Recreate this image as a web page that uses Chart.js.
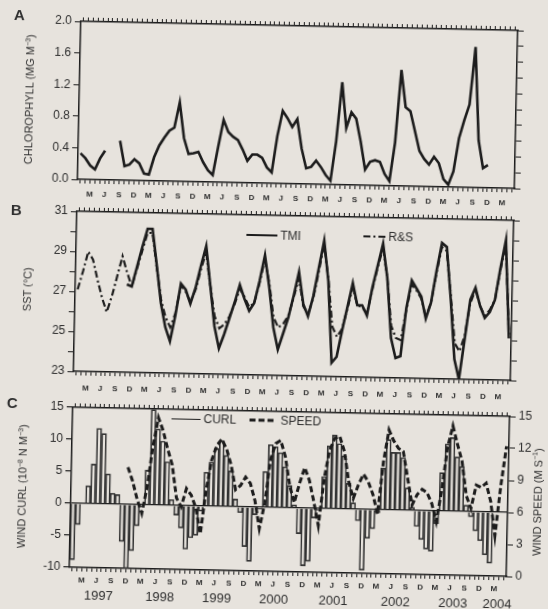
<!DOCTYPE html>
<html>
<head>
<meta charset="utf-8">
<title>Chlorophyll, SST and wind 1997-2004</title>
<script src="https://cdn.jsdelivr.net/npm/chart.js@4.4.1/dist/chart.umd.min.js"></script>
<style>
html, body { margin: 0; padding: 0; background: #e7e3dd; overflow: hidden; }
#page { position: relative; width: 548px; height: 609px;
        font-family: "Liberation Sans", Arial, sans-serif; color: #2e2e2e;
        transform: rotate(1.2deg); transform-origin: 60px 300px; }
canvas { position: absolute; left: 0; }
.lbl { position: absolute; white-space: nowrap; line-height: 1; }
.letter { font-weight: bold; font-size: 15px; }
.vtitle { font-size: 11px; transform: translate(-50%, -50%) rotate(-90deg); }
.vtitle sup { font-size: 7px; }
.leg { font-size: 12px; transform: translateY(-50%); }
</style>
</head>
<body>
<div id="page">
  <canvas id="chA" width="548" height="200" style="top:0px"></canvas>
  <canvas id="chB" width="548" height="200" style="top:195px"></canvas>
  <canvas id="chC" width="548" height="217" style="top:392px"></canvas>

  <div class="lbl letter" style="left:8px;top:8px">A</div>
  <div class="lbl letter" style="left:9px;top:203px">B</div>
  <div class="lbl letter" style="left:9px;top:396px">C</div>

  <div class="lbl vtitle" style="left:25px;top:100px">CHLOROPHYLL (MG M<sup>−3</sup>)</div>
  <div class="lbl vtitle" style="left:27px;top:290px">SST (°C)</div>
  <div class="lbl vtitle" style="left:26px;top:487px">WIND CURL (10<sup>−8</sup> N M<sup>−3</sup>)</div>
  <div class="lbl vtitle" style="left:541px;top:492px">WIND SPEED (M S<sup>−1</sup>)</div>

  <!-- legend panel B -->
  <div class="lbl" style="left:245px;top:230px;width:31px;border-top:2.5px solid #1c1c1c"></div>
  <div class="lbl leg" style="left:279px;top:231px">TMI</div>
  <svg class="lbl" style="left:362px;top:225px" width="24" height="10">
    <line x1="0" y1="5" x2="24" y2="5" stroke="#1c1c1c" stroke-width="2.2" stroke-dasharray="7 3 2 3"/>
  </svg>
  <div class="lbl leg" style="left:387px;top:230px">R&amp;S</div>

  <!-- legend panel C -->
  <div class="lbl" style="left:174px;top:416px;width:29px;border-top:1px solid #1c1c1c"></div>
  <div class="lbl leg" style="left:206px;top:416px">CURL</div>
  <svg class="lbl" style="left:252px;top:411px" width="27" height="10">
    <line x1="0" y1="5" x2="27" y2="5" stroke="#1c1c1c" stroke-width="3" stroke-dasharray="6 3"/>
  </svg>
  <div class="lbl leg" style="left:283px;top:416px">SPEED</div>
</div>

<script>
// months since January 1997 (Jan 1997 .. May 2004)
const monthIdx = [];
for (let i = 0; i < 89; i++) monthIdx.push(i);
const monthLetters = ['J', 'F', 'M', 'A', 'M', 'J', 'J', 'A', 'S', 'O', 'N', 'D'];
const shownMonths = [2, 5, 8, 11];
const yearLabels = ['1997', '1998', '1999', '2000', '2001', '2002', '2003', '2004'];
const yearLabelAt = [5.5, 18, 29.6, 41.2, 53.3, 66, 77.7, 86.7];

// A: chlorophyll, mg m-3 (gap in Jul-Aug 1997)
const chlorophyll = [
  0.33, 0.27, 0.18, 0.13, 0.27, 0.37, null, null, 0.50, 0.18, 0.20, 0.27,
  0.22, 0.09, 0.08, 0.30, 0.45, 0.55, 0.64, 0.68, 1.00, 0.55, 0.35, 0.36,
  0.38, 0.25, 0.15, 0.09, 0.45, 0.79, 0.64, 0.58, 0.54, 0.42, 0.28, 0.36,
  0.36, 0.32, 0.20, 0.14, 0.60, 0.92, 0.83, 0.72, 0.82, 0.45, 0.20, 0.22,
  0.30, 0.22, 0.12, 0.05, 0.55, 1.30, 0.72, 0.92, 0.84, 0.55, 0.20, 0.30,
  0.32, 0.30, 0.15, 0.06, 0.55, 1.47, 1.00, 0.95, 0.70, 0.45, 0.35, 0.28,
  0.38, 0.30, 0.10, 0.03, 0.20, 0.62, 0.85, 1.05, 1.78, 0.60, 0.25, 0.29
];

// B: sea surface temperature, deg C
const sstTMI = [
  null, null, null, null, null, null, null, null, null, null, 27.4, 27.3,
  28.3, 29.3, 30.2, 30.2, 28.4, 26.5, 25.3, 24.6, 25.9, 27.5, 27.2, 26.5,
  27.3, 28.4, 29.4, 27.4, 25.4, 24.3, 25.0, 25.8, 26.6, 27.5, 26.8, 26.2,
  26.6, 27.7, 29.0, 27.4, 25.4, 24.3, 25.1, 25.9, 27.0, 28.2, 26.6, 26.0,
  27.0, 28.4, 29.8, 27.8, 23.7, 24.0, 25.3, 26.5, 27.7, 26.6, 26.6, 26.1,
  27.5, 28.6, 29.7, 28.0, 25.0, 24.0, 24.1, 26.5, 27.9, 27.5, 27.1, 26.0,
  26.8, 28.4, 29.8, 29.6, 27.0, 24.0, 23.0, 25.0, 27.0, 27.6, 26.7, 26.1,
  26.4, 27.0, 28.6, 30.0, 25.1
];
const sstRS = [
  27.1, 28.0, 29.0, 28.6, 27.6, 26.7, 26.0, 26.8, 27.8, 28.8, 28.0, 27.3,
  28.2, 29.1, 30.0, 30.0, 28.3, 26.7, 25.8, 25.3, 26.0, 27.4, 27.1, 26.6,
  27.2, 28.2, 29.1, 27.4, 25.9, 25.3, 25.5, 25.9, 26.5, 27.3, 26.9, 26.4,
  26.6, 27.6, 28.8, 27.6, 25.9, 25.4, 25.6, 26.0, 26.9, 27.9, 26.5, 26.1,
  26.9, 28.2, 29.6, 27.9, 25.5, 25.0, 25.4, 26.4, 27.5, 26.6, 26.5, 26.2,
  27.4, 28.5, 29.5, 28.0, 25.6, 25.0, 24.9, 26.4, 27.7, 27.4, 27.0, 26.1,
  26.8, 28.3, 29.6, 29.4, 27.2, 24.8, 24.4, 25.2, 26.8, 27.5, 26.7, 26.2,
  26.5, 27.0, 28.5, 29.8, 25.3
];

// C: wind stress curl (1e-8 N m-3) and wind speed (m s-1)
const windCurl = [
  -8.8, -3.3, 0.0, 2.8, 6.2, 11.8, 11.0, 4.7, 1.7, 1.5, -5.8, -10.0,
  -7.2, -3.3, -0.3, 5.4, 14.9, 11.9, 10.0, 6.8, 0.9, -1.5, -3.5, -6.8,
  -5.0, -4.6, -0.8, 5.3, 6.9, 9.0, 10.3, 8.0, 5.6, 1.2, -0.9, -6.2,
  -8.5, -1.2, -0.3, 5.6, 9.8, 9.5, 8.6, 6.4, 3.5, 0.5, -4.0, -9.0,
  -8.3, -1.5, -0.3, 5.0, 9.8, 11.5, 10.2, 8.3, 4.0, 1.0, -1.8, -9.5,
  -4.5, -3.0, -0.5, 6.5, 11.0, 9.0, 9.0, 8.2, 3.5, 0.5, -2.5, -4.5,
  -6.0, -6.3, -2.0, 6.0, 10.5, 11.5, 8.5, 7.0, 1.0, -0.8, -3.0, -4.5,
  -6.7, -8.0
];
const windSpeed = [
  null, null, null, null, null, null, null, null, null, null, null, 9.5,
  8.2, 6.5, 5.2, 7.7, 11.5, 14.2, 13.0, 11.3, 9.8, 6.7, 5.9, 7.6,
  7.0, 5.8, 3.4, 7.5, 10.3, 11.7, 12.3, 11.4, 9.9, 7.6, 8.0, 8.8,
  8.2, 6.6, 4.0, 6.4, 10.5, 12.0, 12.3, 10.8, 8.1, 6.5, 8.3, 9.8,
  8.6, 6.6, 4.4, 8.8, 11.5, 12.6, 12.8, 11.4, 8.6, 7.0, 8.3, 9.3,
  8.6, 7.4, 5.6, 10.5, 13.5, 12.5, 11.8, 11.5, 9.0, 6.5, 7.5, 8.0,
  7.7, 6.7, 5.0, 8.0, 12.0, 14.0, 12.3, 10.7, 7.5, 6.3, 8.5, 8.3,
  8.7, 7.0, 3.8, 8.5, 12.2
];

const INK = '#1c1c1c';
Chart.defaults.font.family = '"Liberation Sans", Arial, sans-serif';
Chart.defaults.color = '#2e2e2e';

function isMult(v, step) {
  return Math.abs(v / step - Math.round(v / step)) < 1e-6;
}

function monthAxis(position, height, withLabels, pad, weight) {
  return {
    type: 'linear', position: position, min: -0.5, max: 88.5, offset: false, weight: weight || 0,
    afterBuildTicks: s => { s.ticks = monthIdx.map(v => ({ value: v })); },
    afterFit: s => { s.height = height; },
    grid: { drawOnChartArea: false, offset: false, tickLength: 4, color: INK, lineWidth: 1 },
    border: { color: INK, width: 1.5 },
    ticks: {
      display: withLabels, autoSkip: false, maxRotation: 0, minRotation: 0, padding: pad || 3,
      font: { size: 8, weight: 'bold' },
      callback: v => shownMonths.includes(v % 12) ? monthLetters[v % 12] : ''
    }
  };
}

function valueAxis(position, min, max, step, width, fmt) {
  return {
    type: 'linear', position: position, min: min, max: max,
    afterFit: s => { s.width = width; },
    grid: { drawOnChartArea: false, tickLength: 6, color: INK, lineWidth: 1 },
    border: { color: INK, width: 1.5 },
    ticks: {
      stepSize: step, display: !!fmt, padding: 3, font: { size: 12 },
      callback: fmt || (() => '')
    }
  };
}

function baseOptions(scales) {
  return {
    responsive: false,
    animation: false,
    devicePixelRatio: 1,
    layout: { padding: 0 },
    plugins: { legend: { display: false }, tooltip: { enabled: false } },
    scales: scales
  };
}

new Chart(document.getElementById('chA'), {
  type: 'line',
  data: {
    labels: monthIdx,
    datasets: [{
      data: chlorophyll, borderColor: INK, borderWidth: 2.6,
      pointRadius: 0, tension: 0, spanGaps: false
    }]
  },
  options: baseOptions({
    x: monthAxis('bottom', 21, true, 6),
    xt: monthAxis('top', 21, false),
    y: valueAxis('left', 0, 2, 0.2, 75, v => isMult(v, 0.4) ? v.toFixed(1) : ''),
    yr: valueAxis('right', 0, 2, 0.2, 36, null)
  })
});

new Chart(document.getElementById('chB'), {
  type: 'line',
  data: {
    labels: monthIdx,
    datasets: [
      { label: 'TMI', data: sstTMI, borderColor: INK, borderWidth: 2.6, pointRadius: 0, tension: 0 },
      { label: 'R&S', data: sstRS, borderColor: INK, borderWidth: 2.2, borderDash: [7, 3, 2, 3],
        pointRadius: 0, tension: 0 }
    ]
  },
  options: baseOptions({
    x: monthAxis('bottom', 24, true, 8),
    xt: monthAxis('top', 16, false),
    y: valueAxis('left', 23, 31, 1, 75, v => (v % 2 === 1 ? String(v) : '')),
    yr: valueAxis('right', 23, 31, 1, 36, null)
  })
});

const curlAxis = valueAxis('left', -10, 15, 5, 75, v => String(v));
curlAxis.grid = {
  drawOnChartArea: true, tickLength: 6, lineWidth: 1.2, tickColor: INK,
  color: c => (c.tick && c.tick.value === 0 ? INK : 'rgba(0,0,0,0)')
};
const speedAxis = valueAxis('right', 0, 15, 3, 36, v => String(v));

const xMonthsC = monthAxis('bottom', 20, true, 4, 0);
const xYearsC = {
  type: 'linear', position: 'bottom', min: -0.5, max: 88.5, offset: false, weight: 1,
  afterBuildTicks: s => { s.ticks = yearLabelAt.map(v => ({ value: v })); },
  afterFit: s => { s.height = 22; },
  grid: { display: false, drawTicks: false },
  border: { display: false },
  ticks: { autoSkip: false, maxRotation: 0, minRotation: 0, padding: 1, font: { size: 13 },
    callback: (v, i) => yearLabels[i] }
};

new Chart(document.getElementById('chC'), {
  type: 'bar',
  data: {
    labels: monthIdx,
    datasets: [
      { type: 'line', label: 'SPEED', data: windSpeed, yAxisID: 'ys', borderColor: INK,
        borderWidth: 3, borderDash: [6, 3], pointRadius: 0, tension: 0, order: 1 },
      { type: 'bar', label: 'CURL', data: windCurl, yAxisID: 'y',
        backgroundColor: 'rgba(0,0,0,0)', borderColor: '#333', borderWidth: 1,
        barPercentage: 1, categoryPercentage: 1, order: 2 }
    ]
  },
  options: baseOptions({
    x: xMonthsC,
    xy: xYearsC,
    xt: monthAxis('top', 15, false),
    y: curlAxis,
    ys: speedAxis
  })
});
</script>
</body>
</html>
